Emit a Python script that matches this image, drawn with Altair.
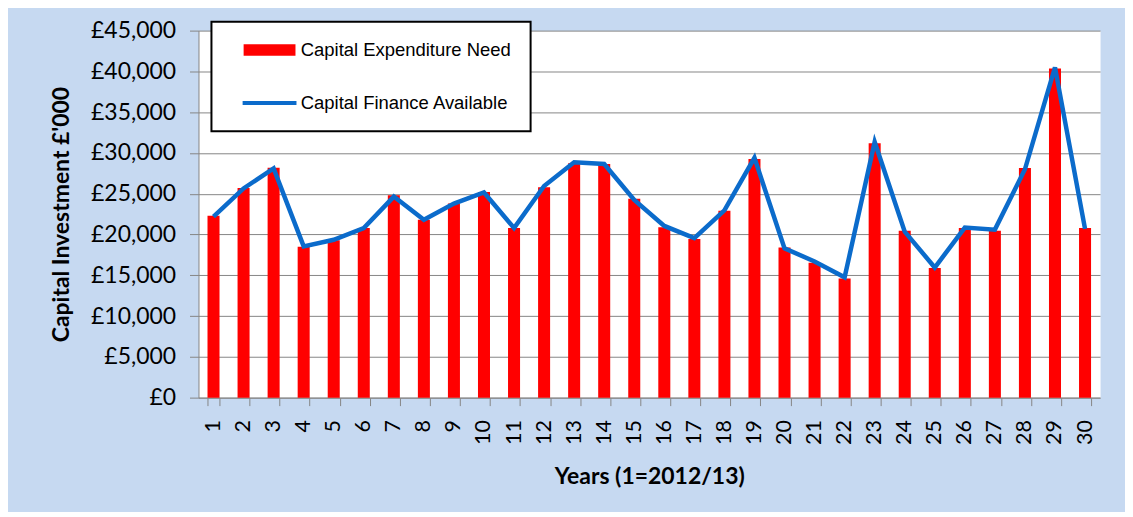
import altair as alt
import pandas as pd

years = list(range(1, 31))
need_label = "Capital Expenditure Need"
avail_label = "Capital Finance Available"
need = [22300, 25700, 28200, 18500, 19300, 20800, 24800, 21800, 23800, 25200,
        20800, 25800, 28750, 28650, 24400, 20900, 19450, 22900, 29250, 18400,
        16550, 14600, 31200, 20450, 15900, 20800, 20450, 28150, 40350, 20800]
avail = [22200, 25650, 28100, 18550, 19350, 20800, 24650, 21800, 23800, 25150,
         20800, 25950, 28850, 28650, 24250, 21050, 19550, 22950, 29400, 18300,
         16700, 14750, 31350, 20350, 15950, 20850, 20600, 28000, 40500, 20700]
y_ticks = [0, 5000, 10000, 15000, 20000, 25000, 30000, 35000, 40000, 45000]

df = pd.DataFrame({
    "year": years * 2,
    "series": [need_label] * 30 + [avail_label] * 30,
    "value": need + avail,
})

RED = "#FF0000"
BLUE = "#0B6BCB"
GRID = "#868686"

x_axis = alt.Axis(
    title="Years (1=2012/13)", labelAngle=270, tickBand="extent", grid=False,
    domainColor=GRID, tickColor=GRID, tickSize=8,
    labelFont="Lato", labelFontSize=21.5, labelColor="black", labelPadding=14,
    titleFont="Lato", titleFontSize=23, titleFontWeight="bold", titleColor="black",
    titlePadding=21,
)
y_axis = alt.Axis(
    title="Capital Investment £'000", values=y_ticks,
    labelExpr="'£' + format(datum.value, ',')",
    grid=True, gridColor=GRID, gridWidth=1,
    domainColor=GRID, tickColor=GRID, tickSize=9,
    labelFont="Lato", labelFontSize=23, labelColor="black", labelPadding=14,
    titleFont="Lato", titleFontSize=23, titleFontWeight="bold", titleColor="black",
    titlePadding=17,
)
x_enc = alt.X("year:O", axis=x_axis, scale=alt.Scale(paddingInner=0.6, paddingOuter=0.3))
y_enc = alt.Y("value:Q", axis=y_axis, scale=alt.Scale(domain=[0, 45000], nice=False))

legend = alt.Legend(
    title=None, orient="none", legendX=13, legendY=-9, direction="vertical",
    fillColor="white", strokeColor="black", padding=19,
    symbolSize=100, symbolOffset=30, labelOffset=22, clipHeight=19, rowPadding=34,
    symbolStrokeWidth=0,
    labelFont="Liberation Sans", labelFontSize=18.5, labelColor="black", labelLimit=400,
)

bars = alt.Chart(df).transform_filter(
    alt.datum.series == need_label
).mark_bar(color=RED).encode(x=x_enc, y=y_enc)

line = alt.Chart(df).transform_filter(
    alt.datum.series == avail_label
).mark_line(color=BLUE, strokeWidth=4.5).encode(x=x_enc, y=y_enc)

legend_layer = alt.Chart(df).transform_filter("false").mark_point(filled=True, opacity=1).encode(
    x=x_enc, y=y_enc,
    color=alt.Color("series:N", scale=alt.Scale(domain=[need_label, avail_label], range=[RED, BLUE]), legend=legend),
    shape=alt.Shape("series:N", scale=alt.Scale(domain=[need_label, avail_label],
                    range=["M-5.2,-1.15H5.2V1.15H-5.2Z", "M-5.4,-0.4H5.4V0.4H-5.4Z"]), legend=legend),
)

chart = alt.layer(bars, line, legend_layer).properties(
    width=904, height=368,
    padding={"left": 191, "top": 22, "right": 25, "bottom": 114},
    autosize=alt.AutoSizeParams(type="none"),
    background="#C6D9F1",
).configure_view(fill="white", stroke="transparent").configure_legend(strokeWidth=2)

chart.save("out.html", embed_options={"renderer": "svg", "actions": False})
